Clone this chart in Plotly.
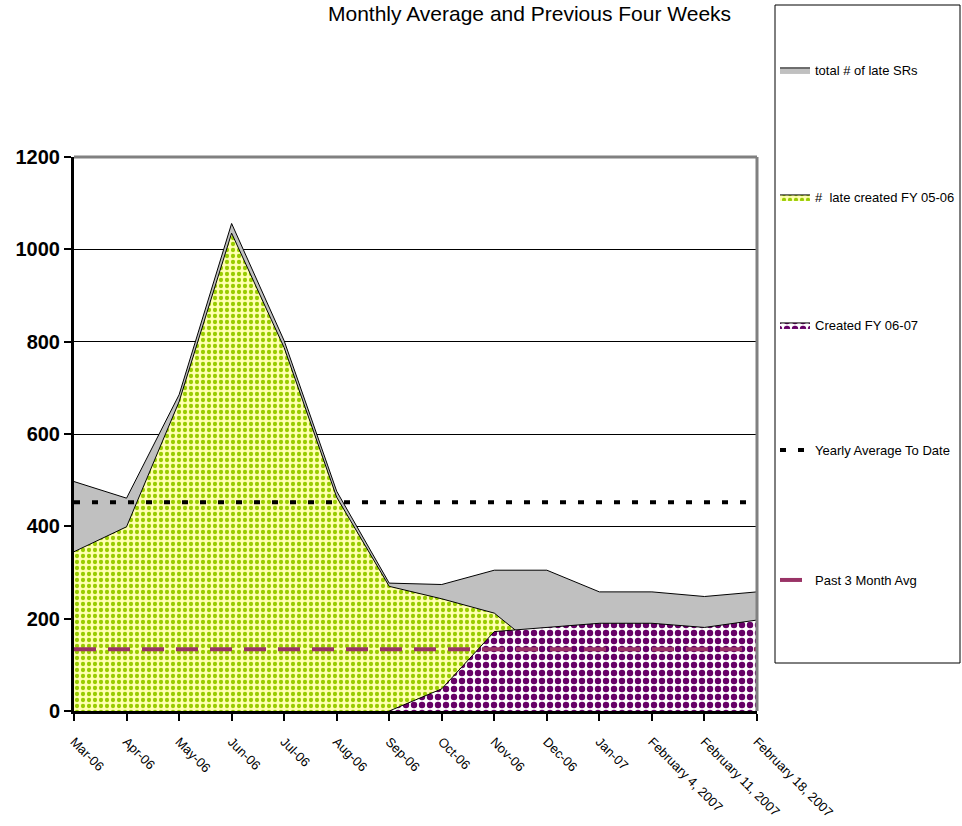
import plotly.graph_objects as go

# Reporting periods shown on the category axis
periods = ["Mar-06", "Apr-06", "May-06", "Jun-06", "Jul-06", "Aug-06", "Sep-06",
           "Oct-06", "Nov-06", "Dec-06", "Jan-07", "February 4, 2007",
           "February 11, 2007", "February 18, 2007"]

# Late service requests per period
total_late = [497, 461, 685, 1056, 802, 476, 277, 274, 305, 305, 258, 258, 248, 258]
late_fy0506 = [345, 399, 670, 1035, 787, 463, 270, 243, 212, 120,
               None, None, None, None]
created_fy0607 = [None, None, None, None, None, None, 0, 48, 172, 181,
                  190, 190, 181, 197]

# Reference averages
yearly_avg = 452
past3_avg = 134

y_ticks = [0, 200, 400, 600, 800, 1000, 1200]

FONT = "Liberation Sans Narrow, Arial Narrow, Liberation Sans, Arial, sans-serif"

# Plot-area geometry in pixels (used to place the legend entries and box)
L, R, T, B = 74, 205, 157, 115
W, H = 962, 826
PW, PH = W - L - R, H - T - B


def px_x(x):
    return (x - L) / PW


def px_y(y):
    return 1 + (T - y) / PH


fig = go.Figure()

fig.add_trace(go.Scatter(
    x=periods, y=total_late, name="total # of late SRs",
    mode="lines", fill="tozeroy", fillcolor="#C0C0C0",
    line=dict(color="black", width=1), legend="legend"))

fig.add_trace(go.Scatter(
    x=periods, y=late_fy0506, name="#  late created FY 05-06",
    mode="lines", fill="tozeroy",
    fillpattern=dict(shape=".", fgcolor="#99CC00", bgcolor="#FFFFB0",
                     size=6, solidity=0.4, fillmode="replace"),
    line=dict(color="black", width=1), legend="legend2"))

fig.add_trace(go.Scatter(
    x=periods, y=created_fy0607, name="Created FY 06-07",
    mode="lines", fill="tozeroy",
    fillpattern=dict(shape=".", fgcolor="#660066", bgcolor="#FFFFFF",
                     size=8, solidity=0.5, fillmode="replace"),
    line=dict(color="black", width=1), legend="legend3"))

fig.add_trace(go.Scatter(
    x=periods, y=[yearly_avg] * len(periods), name="Yearly Average To Date",
    mode="lines", line=dict(color="black", width=4, dash="6px,12px"),
    legend="legend4"))

fig.add_trace(go.Scatter(
    x=periods, y=[past3_avg] * len(periods), name="Past 3 Month Avg",
    mode="lines", line=dict(color="#993366", width=4, dash="22px,12px"),
    legend="legend5"))

legend_rows = [70, 197, 325, 450, 580]
legend_common = dict(x=px_x(775), xanchor="left", yanchor="middle",
                     font=dict(family=FONT, size=13, color="black"),
                     itemwidth=30, bgcolor="rgba(0,0,0,0)", borderwidth=0)

fig.update_layout(
    width=W, height=H,
    margin=dict(l=L, r=R, t=T, b=B, autoexpand=False),
    paper_bgcolor="white", plot_bgcolor="white",
    font=dict(family=FONT, color="black", size=13),
    showlegend=True,
    legend=dict(y=px_y(legend_rows[0]), **legend_common),
    legend2=dict(y=px_y(legend_rows[1]), **legend_common),
    legend3=dict(y=px_y(legend_rows[2]), **legend_common),
    legend4=dict(y=px_y(legend_rows[3]), **legend_common),
    legend5=dict(y=px_y(legend_rows[4]), **legend_common),
    annotations=[dict(
        text="Monthly Average and Previous Four Weeks",
        xref="paper", yref="paper", x=px_x(529), y=px_y(27),
        xanchor="center", yanchor="bottom", showarrow=False,
        font=dict(family=FONT, size=21, color="black"))],
    shapes=[
        dict(type="line", xref="paper", yref="paper", x0=0, x1=1, y0=1, y1=1,
             line=dict(color="#808080", width=3)),
        dict(type="line", xref="paper", yref="paper", x0=1, x1=1, y0=0, y1=1,
             line=dict(color="#808080", width=3)),
        dict(type="rect", xref="paper", yref="paper",
             x0=px_x(775), x1=px_x(960), y0=px_y(663), y1=px_y(5),
             line=dict(color="black", width=1), fillcolor="rgba(0,0,0,0)"),
    ],
)

fig.update_xaxes(
    type="category", range=[0, len(periods) - 1],
    showgrid=False, showline=True, linecolor="black", linewidth=3,
    ticks="outside", ticklen=7, tickwidth=2, tickcolor="black",
    tickangle=45, ticklabelstandoff=8,
    tickfont=dict(family=FONT, size=13),
    zeroline=False)

fig.update_yaxes(
    range=[0, 1200], tickvals=y_ticks,
    showgrid=True, gridcolor="black", gridwidth=1,
    showline=True, linecolor="black", linewidth=3,
    ticks="outside", ticklen=7, tickwidth=2, tickcolor="black",
    tickfont=dict(family=FONT, size=20, weight="bold"),
    zeroline=False)

fig.write_html("out.html")
